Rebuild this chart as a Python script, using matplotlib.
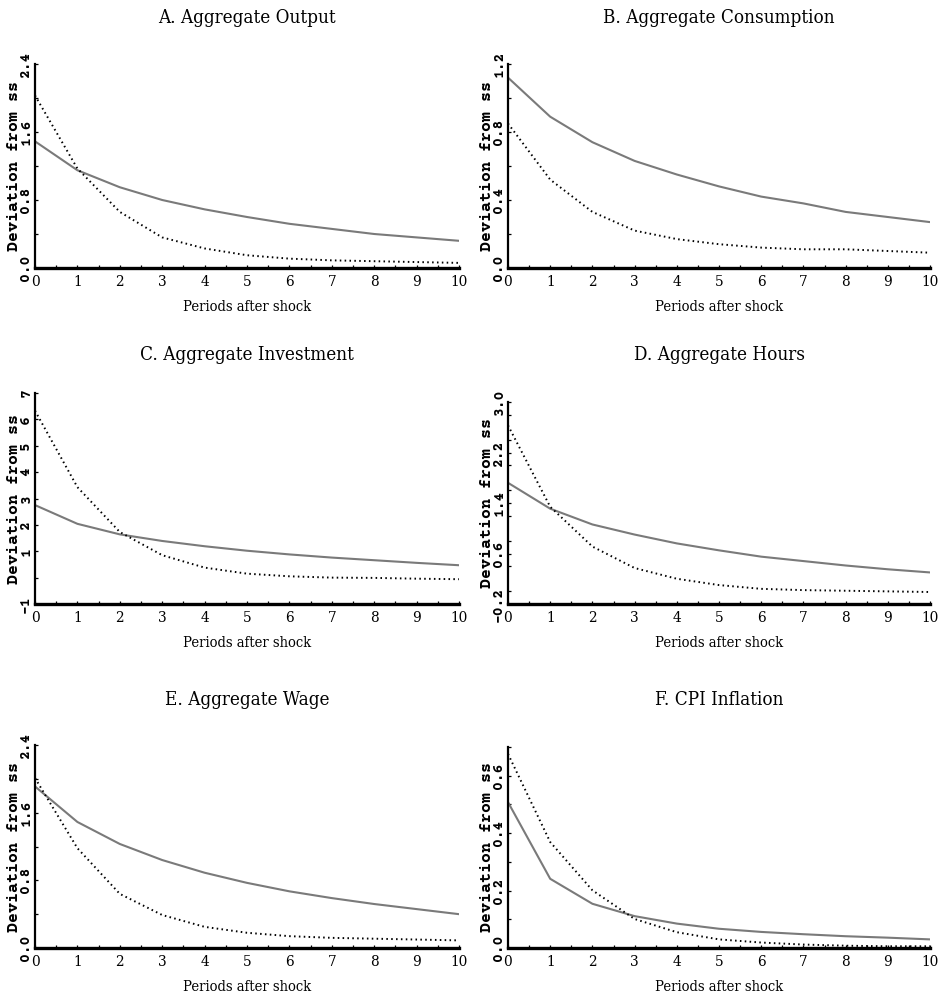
import matplotlib
matplotlib.use('Agg')
import matplotlib.pyplot as plt
from matplotlib.ticker import MultipleLocator, FixedLocator, FixedFormatter

# impulse responses, periods 0..10 after the shock
periods = list(range(11))

titles = ["A. Aggregate Output", "B. Aggregate Consumption",
          "C. Aggregate Investment", "D. Aggregate Hours",
          "E. Aggregate Wage", "F. CPI Inflation"]

output_solid = [1.49, 1.15, 0.95, 0.80, 0.69, 0.60, 0.52, 0.46, 0.40, 0.36, 0.32]
output_dotted = [2.03, 1.17, 0.66, 0.36, 0.23, 0.15, 0.11, 0.09, 0.08, 0.07, 0.06]

cons_solid = [1.12, 0.89, 0.74, 0.63, 0.55, 0.48, 0.42, 0.38, 0.33, 0.30, 0.27]
cons_dotted = [0.85, 0.52, 0.33, 0.22, 0.17, 0.14, 0.12, 0.11, 0.11, 0.10, 0.09]

inv_solid = [2.75, 2.04, 1.64, 1.39, 1.19, 1.02, 0.88, 0.76, 0.66, 0.56, 0.47]
inv_dotted = [6.33, 3.43, 1.73, 0.85, 0.38, 0.15, 0.05, 0.00, -0.01, -0.04, -0.06]

hours_solid = [1.72, 1.31, 1.06, 0.90, 0.76, 0.65, 0.55, 0.48, 0.41, 0.35, 0.30]
hours_dotted = [2.63, 1.34, 0.71, 0.37, 0.20, 0.10, 0.04, 0.02, 0.01, 0.00, -0.01]

wage_solid = [1.91, 1.49, 1.23, 1.04, 0.89, 0.77, 0.67, 0.59, 0.52, 0.46, 0.40]
wage_dotted = [2.01, 1.18, 0.64, 0.39, 0.25, 0.18, 0.14, 0.12, 0.11, 0.10, 0.09]

cpi_solid = [0.508, 0.241, 0.154, 0.111, 0.085, 0.067, 0.056, 0.048, 0.041, 0.036, 0.030]
cpi_dotted = [0.676, 0.369, 0.201, 0.101, 0.055, 0.030, 0.019, 0.012, 0.008, 0.006, 0.006]

solid_series = [output_solid, cons_solid, inv_solid, hours_solid, wage_solid, cpi_solid]
dotted_series = [output_dotted, cons_dotted, inv_dotted, hours_dotted, wage_dotted, cpi_dotted]

# y axis: (ymin, ymax, major ticks, tick labels, minor step)
y_axes = [
    (0.0, 2.4, [0.0, 0.8, 1.6, 2.4], ["0.0", "0.8", "1.6", "2.4"], 0.4),
    (0.0, 1.2, [0.0, 0.4, 0.8, 1.2], ["0.0", "0.4", "0.8", "1.2"], 0.2),
    (-1.0, 7.0, [-1, 0, 1, 2, 3, 4, 5, 6, 7], ["\u22121", "", "1", "2", "3", "4", "5", "6", "7"], 1.0),
    (-0.2, 3.0, [-0.2, 0.6, 1.4, 2.2, 3.0], ["\u22120.2", "0.6", "1.4", "2.2", "3.0"], 0.4),
    (0.0, 2.4, [0.0, 0.8, 1.6, 2.4], ["0.0", "0.8", "1.6", "2.4"], 0.4),
    (0.0, 0.7, [0.0, 0.2, 0.4, 0.6], ["0.0", "0.2", "0.4", "0.6"], 0.1),
]

# panel boxes in pixels: left, top, right, bottom
W, H = 939, 999
boxes = [(35, 64, 459, 268), (508, 64, 930, 268),
         (35, 393, 459, 604), (508, 402, 930, 604),
         (35, 745, 459, 948), (508, 747, 930, 948)]
title_y = [18, 18, 355, 355, 700, 700]

serif = ['DejaVu Serif']
mono = ['Courier Prime', 'DejaVu Sans Mono']

fig = plt.figure(figsize=(W / 100, H / 100), dpi=100)

for i in range(6):
    l, t, r, b = boxes[i]
    ax = fig.add_axes([l / W, 1 - b / H, (r - l) / W, (b - t) / H])
    ymin, ymax, yt, ylabels, ystep = y_axes[i]

    ax.plot(periods, solid_series[i], color='#7a7a7a', lw=1.5, solid_joinstyle='round')
    ax.plot(periods, dotted_series[i], color='black', lw=1.4, linestyle=(0, (0.8, 1.7)))

    ax.set_xlim(0, 10)
    ax.set_ylim(ymin, ymax)
    ax.xaxis.set_major_locator(MultipleLocator(1))
    ax.xaxis.set_minor_locator(MultipleLocator(0.5))
    ax.yaxis.set_major_locator(FixedLocator(yt))
    ax.yaxis.set_major_formatter(FixedFormatter(ylabels))
    ax.yaxis.set_minor_locator(MultipleLocator(ystep))

    for side in ['top', 'right']:
        ax.spines[side].set_visible(False)
    ax.spines['left'].set_linewidth(1.6)
    ax.spines['bottom'].set_linewidth(2.4)

    ax.tick_params(which='both', direction='in', length=2.5, width=0.9, color='black')
    ax.tick_params(axis='x', pad=5)
    ax.tick_params(axis='y', pad=2)
    for lab in ax.get_xticklabels():
        lab.set_fontfamily(serif)
        lab.set_fontstretch('condensed')
        lab.set_fontsize(11)
    for lab in ax.get_yticklabels():
        lab.set_fontfamily(mono)
        lab.set_fontsize(10.5)
        lab.set_fontweight('bold')
        lab.set_rotation(90)
        lab.set_va('center')

    # title and axis labels
    cx = (l + r) / 2
    fig.text(cx / W, 1 - title_y[i] / H, titles[i], ha='center', va='center',
             family=serif, stretch='condensed', size=13.5)
    fig.text(cx / W, 1 - (b + 39) / H, "Periods after shock", ha='center', va='center',
             family=serif, stretch='condensed', size=10.5)
    fig.text((l - 17) / W, 1 - ((t + b) / 2) / H, "Deviation from ss", rotation=90,
             rotation_mode='anchor', ha='center', va='baseline',
             family=mono, size=12, fontweight='bold')

plt.savefig("out.png", dpi=100)
plt.close()
